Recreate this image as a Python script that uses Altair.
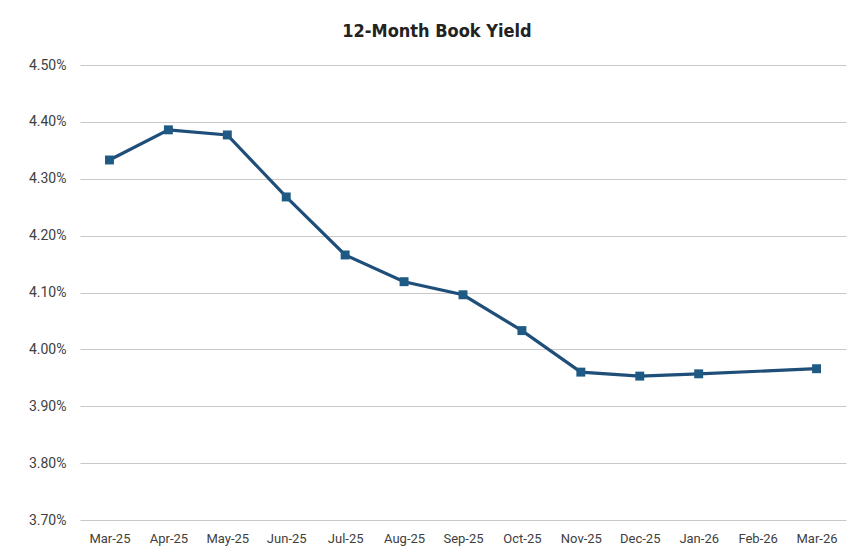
import altair as alt
import pandas as pd

months = ["Mar-25", "Apr-25", "May-25", "Jun-25", "Jul-25", "Aug-25", "Sep-25",
          "Oct-25", "Nov-25", "Dec-25", "Jan-26", "Feb-26", "Mar-26"]
yields = [4.333, 4.386, 4.377, 4.268, 4.166, 4.119, 4.096,
          4.033, 3.960, 3.953, 3.957, None, 3.966]

df = pd.DataFrame({"month": months,
                   "yield": [v / 100 if v is not None else None for v in yields]})

line = alt.Chart(df).transform_filter(
    "isValid(datum.yield)"
).mark_line(
    color="#1f4e79", strokeWidth=3.2,
    point=alt.OverlayMarkDef(shape="square", size=80, filled=True, color="#1f5a85", opacity=1),
).encode(
    x=alt.X("month:N", sort=months, title=None,
            scale=alt.Scale(domain=months, paddingInner=0, paddingOuter=0.5),
            axis=alt.Axis(labelAngle=0, domain=False, ticks=False, grid=False, labelPadding=12,
                          labelFontSize=13, labelColor="#404040", labelFont="Roboto")),
    y=alt.Y("yield:Q", title=None,
            scale=alt.Scale(domain=[0.037, 0.045], zero=False, nice=False),
            axis=alt.Axis(format=".2%", values=[0.037 + 0.001 * i for i in range(9)],
                          domain=False, ticks=False, labelPadding=14,
                          labelFontSize=14, labelColor="#404040", labelFont="Roboto",
                          gridColor="#c8c8c8", gridWidth=1)),
)

chart = line.properties(
    width=766, height=455,
    title=alt.TitleParams("12-Month Book Yield", fontSize=18, fontWeight="bold",
                          font="DejaVu Sans Condensed, Roboto Condensed, Roboto",
                          color="#222222", anchor="middle", offset=17, dx=-26),
    autosize=alt.AutoSizeParams(type="none"),
    padding={"left": 72, "top": 57, "right": 2, "bottom": 28},
    background="white",
).configure_view(stroke=None)

chart.save("out.html", embed_options={"renderer": "svg", "actions": False})
